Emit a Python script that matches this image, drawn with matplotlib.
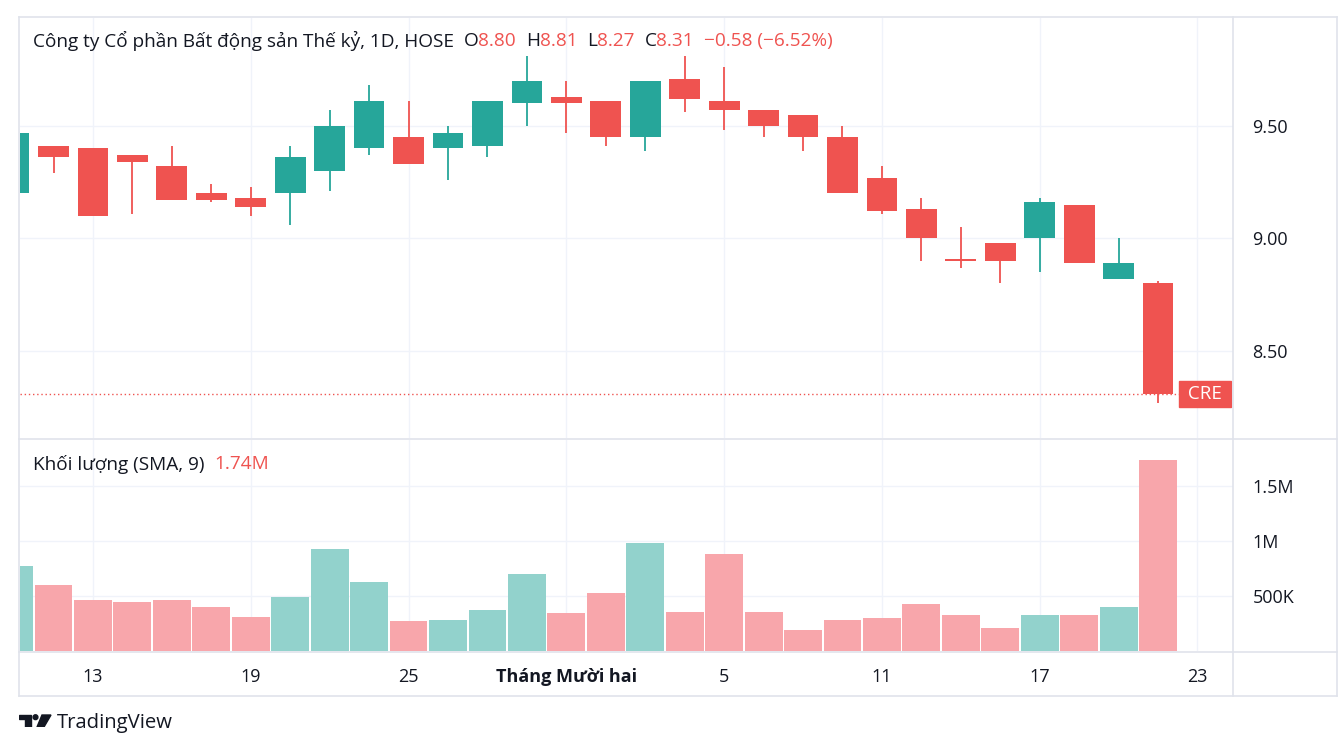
import matplotlib
matplotlib.use("Agg")
from matplotlib import pyplot as plt
from matplotlib.lines import Line2D
from matplotlib.patches import Polygon, Circle
from matplotlib.ticker import FuncFormatter

plt.rcParams["font.family"] = ["Open Sans", "DejaVu Sans"]

UP = "#26a69a"
DOWN = "#ef5350"
UP_VOL = "#92d2cc"
DOWN_VOL = "#f8a6ab"
GRID = "#f0f3fa"
BORDER = "#e0e3eb"
TEXT = "#131722"

# daily candles, CRE (HOSE), 1D
opens = [9.20, 9.41, 9.40, 9.37, 9.32, 9.20, 9.18, 9.20, 9.30, 9.40,
         9.45, 9.40, 9.41, 9.60, 9.63, 9.61, 9.45, 9.71, 9.61, 9.57,
         9.55, 9.45, 9.27, 9.13, 8.91, 8.98, 9.00, 9.15, 8.82, 8.80]
highs = [9.47, 9.41, 9.40, 9.37, 9.41, 9.24, 9.23, 9.41, 9.57, 9.68,
         9.61, 9.50, 9.61, 9.81, 9.70, 9.61, 9.70, 9.81, 9.76, 9.57,
         9.55, 9.50, 9.32, 9.18, 9.05, 8.98, 9.18, 9.15, 9.00, 8.81]
lows = [9.20, 9.29, 9.10, 9.11, 9.17, 9.16, 9.10, 9.06, 9.21, 9.37,
        9.33, 9.26, 9.36, 9.50, 9.47, 9.41, 9.39, 9.56, 9.48, 9.45,
        9.39, 9.20, 9.11, 8.90, 8.87, 8.80, 8.85, 8.89, 8.82, 8.27]
closes = [9.47, 9.36, 9.10, 9.34, 9.17, 9.17, 9.14, 9.36, 9.50, 9.61,
          9.33, 9.47, 9.61, 9.70, 9.60, 9.45, 9.70, 9.62, 9.57, 9.50,
          9.45, 9.20, 9.12, 9.00, 8.90, 8.90, 9.16, 8.89, 8.89, 8.31]
volumes = [777e3, 596e3, 462e3, 446e3, 462e3, 404e3, 312e3, 492e3, 924e3, 627e3,
           269e3, 284e3, 373e3, 700e3, 343e3, 523e3, 982e3, 358e3, 878e3, 358e3,
           193e3, 281e3, 297e3, 431e3, 324e3, 208e3, 324e3, 324e3, 401e3, 1740e3]

tick_pos = [2, 6, 10, 14, 18, 22, 26, 30]
tick_labels = ["13", "19", "25", "Tháng Mười hai", "5", "11", "17", "23"]
price_ticks = [8.5, 9.0, 9.5]
vol_ticks = [500e3, 1e6, 1.5e6]

W, H = 1338, 748


def px_rect(left, top, right, bottom):
    return [left / W, 1 - bottom / H, (right - left) / W, (bottom - top) / H]


fig = plt.figure(figsize=(W / 100, H / 100), dpi=100)
fig.patch.set_facecolor("white")

ax = fig.add_axes(px_rect(20, 18, 1233, 438))
axv = fig.add_axes(px_rect(20, 440, 1233, 651))

idx = list(range(len(opens)))
colors = [UP if c >= o else DOWN for o, c in zip(opens, closes)]
vcolors = [UP_VOL if c >= o else DOWN_VOL for o, c in zip(opens, closes)]

# price pane
ax.vlines(idx, lows, highs, colors=colors, linewidth=1.3, zorder=2)
bottoms = [min(o, c) for o, c in zip(opens, closes)]
heights = [max(abs(c - o), 0.006) for o, c in zip(opens, closes)]
ax.bar(idx, heights, bottom=bottoms, width=0.78, color=colors, zorder=3)
ax.axhline(closes[-1], color=DOWN, linestyle=(0, (1, 2)), linewidth=1, zorder=1)

ax.set_xlim(0.15, 30.9)
ax.set_ylim(8.113, 9.98)
ax.set_xticks(tick_pos)
ax.set_yticks(price_ticks)
ax.grid(True, color=GRID, linewidth=1)
ax.set_axisbelow(True)
ax.tick_params(axis="x", length=0, labelbottom=False)
ax.yaxis.tick_right()
ax.tick_params(axis="y", length=0, pad=14, labelsize=13, labelcolor=TEXT)
ax.yaxis.set_major_formatter(FuncFormatter(lambda v, p: f"{v:.2f}"))
for s in ax.spines.values():
    s.set_visible(False)

ax.annotate(" CRE ", xy=(1, closes[-1]), xycoords=("axes fraction", "data"),
            xytext=(-4.3, 0), textcoords="offset points", ha="right", va="center",
            color="white", fontsize=13.5,
            bbox=dict(boxstyle="square,pad=0.22", fc=DOWN, ec=DOWN))

# header legend
head = [("Công ty Cổ phần Bất động sản Thế kỷ, 1D, HOSE  ", TEXT),
        ("O", TEXT), (f"{opens[-1]:.2f}  ", DOWN),
        ("H", TEXT), (f"{highs[-1]:.2f}  ", DOWN),
        ("L", TEXT), (f"{lows[-1]:.2f}  ", DOWN),
        ("C", TEXT), (f"{closes[-1]:.2f}  ", DOWN),
        ("−0.58 (−6.52%)", DOWN)]
prev = fig.text(33 / W, 1 - 41 / H, head[0][0], color=head[0][1], fontsize=13.7, va="center")
for txt, col in head[1:]:
    prev = ax.annotate(txt, xy=(1, 0.5), xycoords=prev, va="center", color=col, fontsize=13.7)

# volume pane
axv.bar(idx, volumes, width=0.96, color=vcolors, zorder=3)
axv.set_xlim(0.15, 30.9)
axv.set_ylim(0, 1.918e6)
axv.set_xticks(tick_pos)
axv.set_xticklabels(tick_labels)
axv.set_yticks(vol_ticks)
axv.set_yticklabels(["500K", "1M", "1.5M"])
axv.grid(True, color=GRID, linewidth=1)
axv.set_axisbelow(True)
axv.yaxis.tick_right()
axv.tick_params(axis="y", length=0, pad=14, labelsize=13, labelcolor=TEXT)
axv.tick_params(axis="x", length=0, pad=12, labelsize=13, labelcolor=TEXT)
for lab in axv.get_xticklabels():
    if lab.get_text().startswith("Tháng"):
        lab.set_fontweight("bold")
for s in axv.spines.values():
    s.set_visible(False)

t = fig.text(33 / W, 1 - 464 / H, "Khối lượng (SMA, 9)  ", color=TEXT, fontsize=13.7, va="center")
axv.annotate(f"{volumes[-1] / 1e6:.2f}M", xy=(1, 0.5), xycoords=t, va="center",
             color=DOWN, fontsize=13.7)

# frame lines
def fig_line(x0, y0, x1, y1):
    fig.add_artist(Line2D([x0 / W, x1 / W], [1 - y0 / H, 1 - y1 / H],
                          color=BORDER, linewidth=1.2))

fig_line(19, 17, 1337, 17)
fig_line(19, 696, 1337, 696)
fig_line(19, 17, 19, 696)
fig_line(1337, 17, 1337, 696)
fig_line(1233, 17, 1233, 696)
fig_line(19, 439, 1337, 439)
fig_line(19, 652, 1337, 652)

# TradingView logo + name
lg = fig.add_axes(px_rect(19, 714, 52, 727))
lg.set_xlim(0, 33)
lg.set_ylim(13, 0)
lg.axis("off")
lg.add_patch(Polygon([(0, 1), (12, 1), (12, 13), (6, 13), (6, 5), (0, 5)], color=TEXT))
lg.add_patch(Circle((16.5, 3.2), 2.4, color=TEXT))
lg.add_patch(Polygon([(23, 1), (32, 1), (25, 13), (18, 13)], color=TEXT))
fig.text(57 / W, 1 - 723 / H, "TradingView", color=TEXT, fontsize=14.6, va="center")

fig.savefig("out.png", dpi=100, facecolor="white")
